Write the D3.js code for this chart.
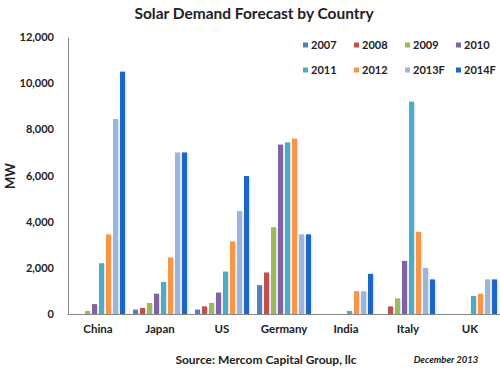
<!DOCTYPE html>
<html>
<head>
<meta charset="utf-8">
<script src="https://cdn.jsdelivr.net/npm/d3@7/dist/d3.min.js"></script>
<style>
  body { margin: 0; background: #fff; }
  svg { font-family: Lato, "Open Sans", sans-serif; }
</style>
</head>
<body>
<svg id="chart" width="500" height="375"></svg>
<script>
const countries = ['China', 'Japan', 'US', 'Germany', 'India', 'Italy', 'UK'];
const years = ['2007', '2008', '2009', '2010', '2011', '2012', '2013F', '2014F'];
const yearColors = ['#4f81bd', '#c0504d', '#9bbb59', '#8064a2', '#4bacc6', '#f79646', '#9bb5dc', '#1b66c9'];

// MW per country, one array per year
const v2007 = [0, 190, 190, 1250, 0, 0, 0];
const v2008 = [0, 260, 330, 1800, 0, 330, 0];
const v2009 = [130, 480, 480, 3760, 0, 680, 0];
const v2010 = [430, 880, 930, 7340, 0, 2300, 0];
const v2011 = [2200, 1390, 1840, 7440, 130, 9200, 780];
const v2012 = [3450, 2450, 3150, 7600, 990, 3560, 880];
const v2013F = [8450, 7000, 4460, 3450, 990, 2000, 1500];
const v2014F = [10500, 7000, 5980, 3450, 1740, 1500, 1500];
const seriesValues = [v2007, v2008, v2009, v2010, v2011, v2012, v2013F, v2014F];

const yTicks = [0, 2000, 4000, 6000, 8000, 10000, 12000];

const svg = d3.select('#chart');
const margin = { top: 37, left: 68, bottom: 314, right: 501 };

const x0 = d3.scaleBand()
    .domain(countries)
    .range([margin.left - 1, margin.right]);

const x1 = d3.scaleBand()
    .domain(years)
    .range([0, x0.bandwidth()])
    .paddingInner(0.28)
    .paddingOuter(0.57);

const y = d3.scaleLinear()
    .domain([0, 12000])
    .range([margin.bottom, margin.top]);

// title
svg.append('text')
    .attr('x', 254)
    .attr('y', 19)
    .attr('text-anchor', 'middle')
    .style('font-size', '15.5px')
    .style('font-weight', 'bold')
    .style('fill', '#222')
    .text('Solar Demand Forecast by Country');

// y axis
const yAxis = svg.append('g')
    .attr('transform', `translate(${margin.left},0)`)
    .call(d3.axisLeft(y).tickValues(yTicks).tickSize(0).tickPadding(14).tickFormat(d3.format(',')));
yAxis.select('.domain').attr('stroke', '#888');
yAxis.selectAll('text')
    .style('font-size', '11px')
    .style('font-weight', 'bold')
    .style('fill', '#222')
    .style('font-family', 'Lato, sans-serif');

svg.append('text')
    .attr('transform', 'translate(15,176) rotate(-90)')
    .attr('text-anchor', 'middle')
    .style('font-size', '13px')
    .style('font-weight', 'bold')
    .style('fill', '#222')
    .text('MW');

// bars
const groups = svg.append('g').selectAll('g')
    .data(countries)
    .enter().append('g')
    .attr('transform', d => `translate(${x0(d)},0)`);

years.forEach((yr, j) => {
    const vals = seriesValues[j];
    groups.filter(d => vals[countries.indexOf(d)] > 0)
        .append('rect')
        .attr('x', x1(yr) + 1.5)
        .attr('y', d => y(vals[countries.indexOf(d)]) + 1)
        .attr('width', x1.bandwidth())
        .attr('height', d => margin.bottom - y(vals[countries.indexOf(d)]) - 1)
        .attr('fill', '#d8dce2')
        .attr('opacity', 0.7);
    groups.filter(d => vals[countries.indexOf(d)] > 0)
        .append('rect')
        .attr('x', x1(yr))
        .attr('y', d => y(vals[countries.indexOf(d)]))
        .attr('width', x1.bandwidth())
        .attr('height', d => margin.bottom - y(vals[countries.indexOf(d)]))
        .attr('fill', yearColors[j]);
});

// x axis
const xAxis = svg.append('g')
    .attr('transform', `translate(0,${margin.bottom})`)
    .call(d3.axisBottom(x0).tickSize(0).tickPadding(11));
xAxis.select('.domain').attr('stroke', '#888');
xAxis.selectAll('text')
    .style('font-size', '11.5px')
    .style('font-weight', 'bold')
    .style('fill', '#222')
    .style('font-family', 'Lato, sans-serif');

// legend
const legend = svg.append('g');
years.forEach((yr, i) => {
    const lx = 303 + (i % 4) * 51;
    const ly = 45 + Math.floor(i / 4) * 25;
    legend.append('rect')
        .attr('x', lx)
        .attr('y', ly - 2.5)
        .attr('width', 5)
        .attr('height', 5)
        .attr('fill', yearColors[i]);
    legend.append('text')
        .attr('x', lx + 8)
        .attr('y', ly)
        .attr('dy', '0.35em')
        .style('font-size', '11px')
        .style('font-weight', 'bold')
        .style('fill', '#222')
        .text(yr);
});

// source and date
svg.append('text')
    .attr('x', 266)
    .attr('y', 364)
    .attr('text-anchor', 'middle')
    .style('font-size', '12px')
    .style('font-weight', 'bold')
    .style('fill', '#222')
    .text('Source: Mercom Capital Group, llc');

svg.append('text')
    .attr('x', 446)
    .attr('y', 363)
    .attr('text-anchor', 'middle')
    .style('font-size', '9.5px')
    .style('font-weight', 'bold')
    .style('font-style', 'italic')
    .style('fill', '#222')
    .text('December  2013');
</script>
</body>
</html>
